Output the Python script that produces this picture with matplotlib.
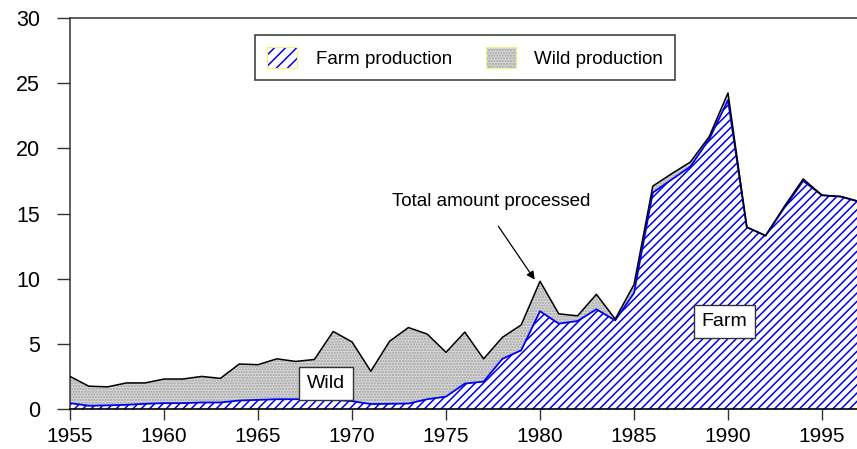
"""Farm vs wild production, stacked area with total line."""

import matplotlib
matplotlib.use("Agg")
import matplotlib.pyplot as plt
from matplotlib.patches import Patch

plt.rcParams["font.family"] = ["Liberation Sans", "DejaVu Sans"]
plt.rcParams["hatch.linewidth"] = 1.1

years = list(range(1955, 1998))
total = [2.5, 1.75, 1.7, 2.0, 2.0, 2.3, 2.3, 2.5, 2.35, 3.45,
         3.4, 3.85, 3.65, 3.8, 5.95, 5.15, 2.9, 5.2, 6.25, 5.75,
         4.35, 5.9, 3.85, 5.5, 6.45, 9.8, 7.3, 7.15, 8.8, 6.9,
         9.55, 17.1, 18.05, 18.95, 20.9, 24.25, 13.95, 13.3, 15.55, 17.65,
         16.4, 16.3, 15.9]
farm = [0.45, 0.25, 0.28, 0.32, 0.4, 0.45, 0.45, 0.5, 0.5, 0.65,
        0.7, 0.75, 0.75, 0.75, 0.72, 0.6, 0.38, 0.4, 0.42, 0.75,
        0.95, 1.95, 2.1, 3.85, 4.5, 7.5, 6.55, 6.75, 7.65, 6.8,
        8.9, 16.6, 17.6, 18.6, 20.7, 23.7, 13.95, 13.3, 15.45, 17.5,
        16.4, 16.3, 15.9]

fig = plt.figure(figsize=(8.57, 4.49), dpi=100)
ax = fig.add_axes([70 / 857, 40 / 449, 1 - 70 / 857, 391 / 449])

# wild part (between farm and total), stippled grey
ax.fill_between(years, farm, total, facecolor="#dadada", edgecolor="#a0a0a0",
                hatch="......", linewidth=0, zorder=1)
# farm part, blue diagonal hatching
ax.fill_between(years, 0, farm, facecolor="white", edgecolor="#0000ee",
                hatch="////", linewidth=0, zorder=2)
ax.plot(years, farm, color="#0000ee", lw=1.3, zorder=3)
ax.plot(years, total, color="black", lw=1.1, zorder=4)

ax.set_xlim(1955, 1955 + 787 / 18.8)
ax.set_ylim(0, 30)
ax.set_xticks(range(1955, 2000, 5))
ax.set_yticks(range(0, 31, 5))
ax.tick_params(axis="y", length=9.5, width=1, pad=12, labelsize=15.5, color="#333333")
ax.tick_params(axis="x", length=8, width=1, pad=5, labelsize=15, color="#333333")
for s in ("left", "top"):
    ax.spines[s].set_color("#333333")
    ax.spines[s].set_linewidth(1.1)
ax.spines["bottom"].set_color("black")
ax.spines["bottom"].set_linewidth(1.2)
ax.spines["bottom"].set_zorder(5)
ax.spines["right"].set_visible(False)

# legend
farm_h = (Patch(facecolor="white", edgecolor="#0000ee", hatch="///", lw=0),
          Patch(facecolor="none", edgecolor="#f2f27a", lw=0.8))
wild_h = (Patch(facecolor="#dadada", edgecolor="#a0a0a0", hatch="......", lw=0),
          Patch(facecolor="none", edgecolor="#f2f27a", lw=0.8))
leg = ax.legend([farm_h, wild_h], ["Farm production", "Wild production"],
                loc="upper center", bbox_to_anchor=(395 / 787, 1 - 17 / 391),
                borderaxespad=0, ncol=2, fontsize=13.5, frameon=True,
                fancybox=False, edgecolor="#333333", framealpha=1,
                borderpad=0.65, handlelength=1.6, handleheight=1.3,
                handletextpad=1.0, columnspacing=1.8)
leg.get_frame().set_linewidth(1.1)

# annotation for total line
ax.text(1977.4, 15.9, "Total amount processed", fontsize=13.5,
        ha="center", va="center")
ax.annotate("", xy=(1979.8, 9.75), xytext=(1977.7, 14.2),
            arrowprops=dict(arrowstyle="-|>", color="black", lw=0.9,
                            mutation_scale=12))

box = dict(boxstyle="square,pad=0.4", facecolor="white", edgecolor="#333333", lw=1)
ax.text(1968.6, 1.95, "Wild", fontsize=14, ha="center", va="center", bbox=box, zorder=6)
ax.text(1989.8, 6.7, "Farm", fontsize=14, ha="center", va="center", bbox=box, zorder=6)

fig.savefig("out.png", dpi=100)
